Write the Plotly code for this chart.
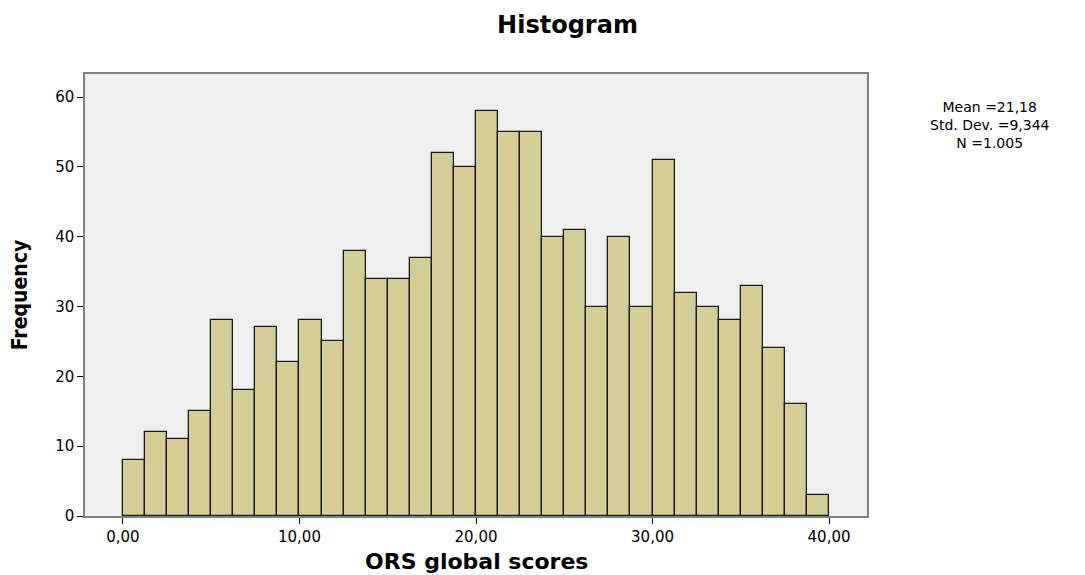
import plotly.graph_objects as go

bin_width = 1.25
bin_starts = [0.0, 1.25, 2.5, 3.75, 5.0, 6.25, 7.5, 8.75, 10.0, 11.25, 12.5, 13.75,
              15.0, 16.25, 17.5, 18.75, 20.0, 21.25, 22.5, 23.75, 25.0, 26.25, 27.5,
              28.75, 30.0, 31.25, 32.5, 33.75, 35.0, 36.25, 37.5, 38.75]
counts = [8, 12, 11, 15, 28, 18, 27, 22, 28, 25, 38, 34, 34, 37, 52, 50, 58, 55, 55,
          40, 41, 30, 40, 30, 51, 32, 30, 28, 33, 24, 16, 3]
x_ticks = [0, 10, 20, 30, 40]
x_tick_labels = ["0,00", "10,00", "20,00", "30,00", "40,00"]
y_ticks = [0, 10, 20, 30, 40, 50, 60]
stats_lines = ["Mean =21,18", "Std. Dev. =9,344", "N =1.005"]

centers = [s + bin_width / 2 for s in bin_starts]

fig = go.Figure(go.Bar(
    x=centers, y=counts, width=bin_width,
    marker=dict(color="#d3ce97", line=dict(color="#1a1a1a", width=1.3)),
))

font_family = "DejaVu Sans, Liberation Sans, sans-serif"
H = 567
fig.update_layout(
    width=1077, height=H,
    margin=dict(l=77, r=218, t=66, b=59),
    paper_bgcolor="white", plot_bgcolor="#f0f0f0",
    showlegend=False,
    font=dict(family=font_family, color="#000000", size=14),
    title=dict(text="<b>Histogram</b>", x=0.5195, xanchor="center", y=1 - 17 / H, yanchor="middle",
               font=dict(size=24, family=font_family)),
    bargap=0,
)
fig.update_xaxes(
    range=[-2.15, 42.15], tickvals=x_ticks, ticktext=x_tick_labels,
    ticks="outside", ticklen=6, tickcolor="#000", tickwidth=1.2,
    showgrid=False, zeroline=False, automargin=False,
    showline=True, linecolor="#808080", linewidth=1.5, mirror=True,
    tickfont=dict(size=15),
)
fig.update_yaxes(
    range=[0, 63.3], tickvals=y_ticks,
    ticks="outside", ticklen=6, tickcolor="#000", tickwidth=1.2,
    showgrid=False, zeroline=False, automargin=False,
    showline=True, linecolor="#808080", linewidth=1.5, mirror=True,
    tickfont=dict(size=15),
    title=dict(text="<b>Frequency</b>", font=dict(size=21, family="DejaVu Sans Condensed, DejaVu Sans"), standoff=22),
)
fig.add_annotation(
    text="<b>ORS global scores</b>", xref="paper", yref="paper", x=0.5, y=0,
    xanchor="center", yanchor="middle", yshift=-45, showarrow=False,
    font=dict(size=22, family=font_family),
)
fig.add_annotation(
    text="<br>".join(stats_lines), xref="paper", yref="paper", x=1.157, y=0.948,
    xanchor="center", yanchor="top", showarrow=False, align="center",
    font=dict(size=14, family=font_family),
)
fig.write_html("out.html")
